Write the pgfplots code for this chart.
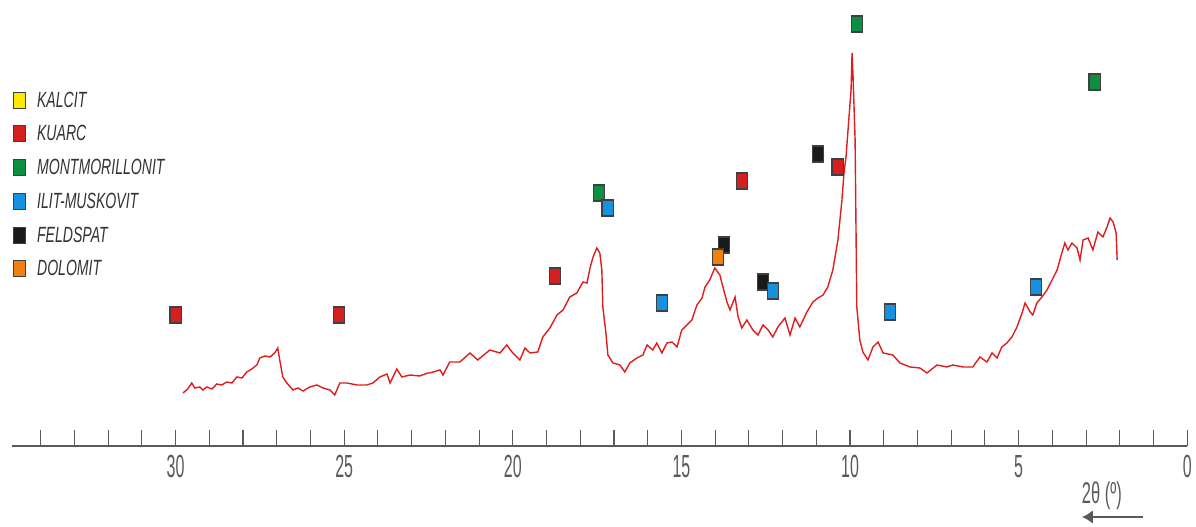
\documentclass[border=0pt]{standalone}
\usepackage{fontspec}
\setmainfont{Liberation Sans}
\usepackage{graphicx}
\usepackage{pgfplots}
\pgfplotsset{compat=1.18}
\usetikzlibrary{arrows.meta}
\definecolor{curve}{RGB}{222,30,30}
\definecolor{mkyellow}{RGB}{255,232,0}
\definecolor{mkred}{RGB}{214,32,32}
\definecolor{mkgreen}{RGB}{10,144,64}
\definecolor{mkblue}{RGB}{24,144,224}
\definecolor{mkblack}{RGB}{26,26,26}
\definecolor{mkorange}{RGB}{240,128,16}
\definecolor{axgray}{RGB}{90,90,90}
\pgfplotsset{mk/.style={only marks, mark=square*, mark size=8pt,
  mark options={xscale=0.7, draw=black!75, line width=1.1pt, fill=#1}}}
\begin{document}
\begin{tikzpicture}
\begin{axis}[
  name=ax,
  scale only axis,
  width=1175.3pt, height=527pt,
  xmin=0, xmax=34.85, ymin=-81, ymax=446,
  x dir=reverse,
  axis x line=middle, axis y line=none,
  axis line style={-, axgray, line width=1.6pt},
  hide obscured x ticks=false,
  xtick={0,5,10,15,20,25,30},
  minor xtick={1,2,3,4,6,7,8,9,11,12,13,14,16,17,18,19,21,22,23,24,26,27,28,29,31,32,33,34},
  xtick align=inside,
  major tick length=16pt, minor tick length=16pt,
  tick style={axgray, line width=1.1pt},
  /pgf/number format/assume math mode=true,
  xticklabel style={font=\fontsize{32}{32}\selectfont, text=axgray, xscale=0.5, anchor=north, inner sep=0pt, yshift=-9pt},
  clip=false,
  legend cell align=left,
  legend style={draw=none, fill=none, at={(axis description cs:-0.0011,0.834)}, anchor=north west,
    font=\fontsize{22}{22}\selectfont\itshape, text=black!80, row sep=12.9pt,
    /tikz/every odd column/.append style={column sep=10pt}},
]
% legend entries
\addlegendimage{mk=mkyellow}
\addlegendentry{\scalebox{0.64}[1]{KALCIT}}
\addlegendimage{mk=mkred}
\addlegendentry{\scalebox{0.64}[1]{KUARC}}
\addlegendimage{mk=mkgreen}
\addlegendentry{\scalebox{0.64}[1]{MONTMORILLONIT}}
\addlegendimage{mk=mkblue}
\addlegendentry{\scalebox{0.64}[1]{ILIT-MUSKOVIT}}
\addlegendimage{mk=mkblack}
\addlegendentry{\scalebox{0.64}[1]{FELDSPAT}}
\addlegendimage{mk=mkorange}
\addlegendentry{\scalebox{0.64}[1]{DOLOMIT}}

% XRD pattern
\addplot[curve, line width=1.4pt, forget plot] coordinates {
(29.78,53)(29.64,57)(29.52,63)(29.43,58)(29.28,59)(29.19,56)(29.07,59)(28.92,57)(28.78,62)(28.63,61)
(28.48,64)(28.33,63)(28.18,69)(28.03,68)(27.89,74)(27.74,77)(27.59,81)(27.50,88)(27.35,90)(27.20,89)
(27.06,93)(26.97,98)(26.91,86)(26.82,69)(26.70,63)(26.52,56)(26.37,58)(26.22,55)(26.02,59)(25.81,61)
(25.63,58)(25.42,56)(25.28,51)(25.13,63)(24.92,63)(24.62,61)(24.33,61)(24.15,63)(23.94,69)(23.73,72)
(23.64,63)(23.44,77)(23.29,69)(23.05,71)(22.76,70)(22.52,73)(22.46,73)(22.16,76)(22.07,71)(21.87,84)
(21.57,84)(21.27,93)(21.04,86)(20.68,96)(20.38,93)(20.18,101)(20.00,93)(19.79,86)(19.64,98)(19.49,93)
(19.26,94)(19.11,109)(18.90,118)(18.69,131)(18.51,136)(18.31,149)(18.10,153)(17.92,164)(17.80,163)(17.71,178)
(17.62,189)(17.51,198)(17.42,193)(17.36,176)(17.33,139)(17.24,113)(17.18,91)(17.03,83)(16.82,81)(16.68,74)
(16.53,83)(16.32,88)(16.14,91)(16.02,101)(15.85,96)(15.73,103)(15.58,93)(15.43,103)(15.28,104)(15.13,99)
(14.99,116)(14.84,121)(14.69,126)(14.54,141)(14.39,148)(14.30,159)(14.16,166)(14.01,178)(13.86,171)(13.77,159)
(13.65,144)(13.56,136)(13.41,149)(13.32,129)(13.21,118)(13.06,126)(12.88,116)(12.73,111)(12.58,121)(12.43,116)
(12.29,109)(12.14,119)(11.93,128)(11.78,111)(11.63,128)(11.49,119)(11.28,134)(11.10,144)(10.95,148)(10.80,151)
(10.66,159)(10.51,176)(10.36,206)(10.24,246)(10.18,273)(10.12,289)(10.06,316)(9.97,356)(9.94,393)(9.91,369)
(9.85,306)(9.82,206)(9.80,139)(9.71,106)(9.62,94)(9.47,86)(9.32,99)(9.17,104)(9.02,93)(8.73,91)
(8.52,83)(8.22,79)(7.93,78)(7.72,73)(7.42,81)(7.13,79)(6.95,81)(6.65,79)(6.36,79)(6.15,89)
(5.94,84)(5.79,93)(5.64,88)(5.50,99)(5.35,103)(5.20,109)(5.05,119)(4.90,133)(4.81,143)(4.66,134)
(4.58,131)(4.46,143)(4.31,149)(4.16,156)(4.01,166)(3.86,176)(3.72,193)(3.63,203)(3.54,196)(3.42,203)
(3.27,198)(3.18,186)(3.09,206)(2.94,208)(2.80,196)(2.65,214)(2.50,209)(2.38,219)(2.29,228)(2.20,224)
(2.11,213)(2.08,186)
};

% MONTMORILLONIT
\addplot[mk=mkgreen, forget plot]
  coordinates {(17.44,253)(9.80,422)(2.75,364)};
% KUARC
\addplot[mk=mkred, forget plot]
  coordinates {(30.0,131)(25.15,131)(18.74,170)(13.21,265)(10.37,279)};
% FELDSPAT
\addplot[mk=mkblack, forget plot]
  coordinates {(13.73,201)(12.59,164)(10.94,292)};
% ILIT-MUSKOVIT
\addplot[mk=mkblue, forget plot]
  coordinates {(17.19,238)(15.58,143)(12.28,155)(8.82,134)(4.49,159)};
% DOLOMIT
\addplot[mk=mkorange, forget plot]
  coordinates {(13.91,189)};

\node[font=\fontsize{30}{30}\selectfont, text=axgray, xscale=0.55, anchor=center]
  at (axis description cs:0.9274,0.0588) {2θ (º)};
\draw[axgray, line width=2.2pt, -{Latex[length=11pt,width=14pt]}]
  (axis description cs:0.9623,0.019) -- (axis description cs:0.9104,0.019);
\end{axis}
\path ([xshift=-12pt]ax.south west) rectangle ([xshift=8.7pt]ax.north east);
\end{tikzpicture}
\end{document}
